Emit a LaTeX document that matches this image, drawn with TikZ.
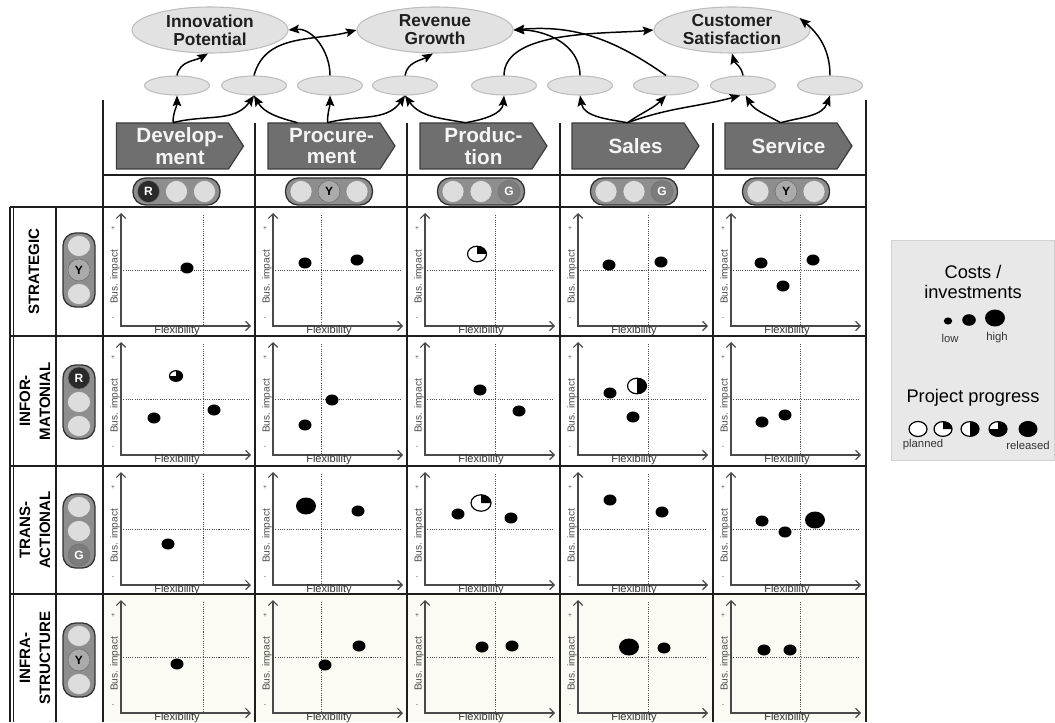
\documentclass[tikz,border=0pt]{standalone}
\usepackage{fontspec}
\setmainfont{Liberation Sans}
\usetikzlibrary{arrows.meta,calc,shapes.geometric}
\definecolor{ellfill}{HTML}{E2E2E2}
\definecolor{ellline}{HTML}{BDBDBD}
\definecolor{hdrfill}{HTML}{6F6F6F}
\definecolor{hdrline}{HTML}{3C3C3C}
\definecolor{tabline}{HTML}{1E1E1E}
\definecolor{axisgray}{HTML}{4A4A4A}
\definecolor{tloff}{HTML}{DDDDDD}
\definecolor{tlbody}{HTML}{8E8E8E}
\definecolor{tlR}{HTML}{2A2A2A}
\definecolor{tlY}{HTML}{ABABAB}
\definecolor{tlG}{HTML}{7C7C7C}
\definecolor{legfill}{HTML}{E8E8E8}
\definecolor{rowtint}{HTML}{FBFBF4}
\newcommand\mydot[3]{\fill[black] (#1,#2) ellipse[x radius=#3,y radius={0.85*#3}];}
\newcommand\mypie[4]{%
  \fill[white] (#1,#2) ellipse[x radius=#3,y radius={0.82*#3}];
  \fill[black] (#1,#2) -- ++(0,{0.82*#3}) arc[start angle=90,end angle=#4,x radius=#3,y radius={0.82*#3}] -- cycle;
  \draw[line width=0.9pt] (#1,#2) ellipse[x radius=#3,y radius={0.82*#3}];}
\begin{document}
\begin{tikzpicture}[x=0.75pt,y=0.75pt,
  big/.style={ellipse, fill=ellfill, draw=ellline, line width=0.8pt, minimum width=117pt, minimum height=34.5pt, inner sep=0pt, align=center, text=black!88, font=\fontsize{13}{13.5}\selectfont\bfseries},
  small/.style={ellipse, fill=ellfill, draw=ellline, line width=0.8pt, minimum width=48.75pt, minimum height=14.25pt, inner sep=0pt},
  hdr/.style={minimum width=95.25pt, minimum height=34.5pt, inner sep=0pt, align=center, text=white!96!black, font=\fontsize{15.5}{16.3}\selectfont\bfseries},
  hdrshape/.style={fill=hdrfill, draw=hdrline, line width=0.9pt},
  link/.style={line width=1.1pt, -{Stealth[length=8pt,width=6.5pt,inset=1.5pt]}},
  tableline/.style={tabline, line width=1.5pt},
  thinline/.style={tabline, line width=0.8pt},
  dotline/.style={axisgray, line width=0.7pt, dash pattern=on 0.8pt off 0.9pt},
  axisline/.style={axisgray, line width=0.9pt, {Straight Barb[length=3.5pt,width=7pt]}-{Straight Barb[length=3.5pt,width=7pt]}},
  pm/.style={inner sep=0pt, font=\fontsize{5}{5}\selectfont, text=axisgray},
  busl/.style={rotate=90, inner sep=0pt, font=\fontsize{7.6}{8}\selectfont, text=axisgray},
  flexl/.style={inner sep=0pt, anchor=base, font=\fontsize{8.3}{9}\selectfont, text=black!80},
  rowlab/.style={rotate=90, align=center, inner sep=0pt, font=\fontsize{11.3}{15}\selectfont\bfseries},
  pill/.style={fill=tlbody, draw=black!80, line width=1pt, rounded corners=9.5pt},
  lamp/.style={fill=tloff, draw=black!45, line width=0.4pt},
  litlamp/.style={circle, inner sep=0pt, minimum size=16.5pt, draw=black!55, line width=0.5pt, font=\fontsize{9}{9}\selectfont\bfseries},
  legtext/.style={align=center, inner sep=0pt, font=\fontsize{13.7}{14.5}\selectfont},
  legsmall/.style={inner sep=0pt, font=\fontsize{8.5}{9}\selectfont, text=black!80}
]
\useasboundingbox (0,0) rectangle (1055,722);

% light tint of the infrastructure row
\fill[rowtint] (103,0) rectangle (866,128);

% header arrow shapes
\foreach \cx in {180,331.5,483.5,635.5,788.5}
  \filldraw[hdrshape] (\cx-63.5,599) -- (\cx+48.5,599) -- (\cx+63.5,576) -- (\cx+48.5,553) -- (\cx-63.5,553) -- cycle;
\node[hdr] (hdev) at (180,576) {Develop-\\ment};
\node[hdr] (hproc) at (331.5,576) {Procure-\\ment};
\node[hdr] (hprod) at (483.5,576) {Produc-\\tion};
\node[hdr] (hsales) at (635.5,576) {Sales};
\node[hdr] (hserv) at (788.5,576) {Service};

% table lines
\draw[tableline] (103,0) -- (103,622);
\draw[tableline] (866,0) -- (866,622);
\foreach \x in {255,407,560,713} \draw[tableline] (\x,0) -- (\x,599);
\draw[tableline] (103,547) -- (866,547);
\draw[tableline] (10,515) -- (866,515);
\foreach \y in {386,256,128} \draw[tableline] (10,\y) -- (866,\y);
\draw[tableline] (56,0) -- (56,515);
\draw[thinline] (10,0) -- (10,515);
\draw[thinline] (13.5,0) -- (13.5,515);

% row labels
\node[rowlab] (rl1) at (34,450.5) {STRATEGIC};
\node[rowlab] (rl2) at (35,321) {INFOR-\\MATONIAL};
\node[rowlab] (rl3) at (35,192) {TRANS-\\ACTIONAL};
\node[rowlab] (rl4) at (35,64) {INFRA-\\STRUCTURE};

% horizontal traffic lights
\foreach \x/\lit/\col/\txt/\tc [count=\i] in {176.5/1/tlR/R/white, 329/2/tlY/Y/black, 481/3/tlG/G/white, 634/3/tlG/G/white, 786/2/tlY/Y/black} {
  \filldraw[pill] (\x-43.5,517) rectangle (\x+43.5,544);
  \foreach \k in {1,2,3} \filldraw[lamp] (\x+28*\k-56,530.5) circle[radius=11];
  \node[litlamp, fill=\col, text=\tc] (th\i) at (\x+28*\lit-56,530.5) {\txt};
}
% vertical traffic lights
\foreach \y/\lit/\col/\txt/\tc [count=\i] in {452/2/tlY/Y/black, 320/1/tlR/R/white, 191/3/tlG/G/white, 62/2/tlY/Y/black} {
  \filldraw[pill] (63,\y-37) rectangle (95,\y+37);
  \foreach \k in {1,2,3} \filldraw[lamp] (79,\y+48-24*\k) circle[x radius=11.5, y radius=10.5];
  \node[litlamp, fill=\col, text=\tc] (tv\i) at (79,\y+48-24*\lit) {\txt};
}

% portfolio cells
\foreach \xl/\dv in {103/100,255/66,407/88,560/88,713/87}{
  \foreach \rt in {515,386,256,128}{
    \draw[dotline] (\xl+\dv,\rt-8) -- (\xl+\dv,\rt-119);
    \draw[dotline] (\xl+18,\rt-63) -- (\xl+146,\rt-63);
    \draw[axisline] (\xl+18,\rt-6) -- (\xl+18,\rt-119) -- (\xl+148,\rt-119);
    \node[pm] (plus-\xl-\rt) at (\xl+10,\rt-22) {+};
    \node[pm] (minus-\xl-\rt) at (\xl+10,\rt-111) {-};
    \node[busl] (bus-\xl-\rt) at (\xl+12,\rt-70) {Bus. impact};
    \node[flexl] (flex-\xl-\rt) at (\xl+74,\rt-126.5) {Flexibility};
  }
}

% projects: strategic
\mydot{187}{454}{6.5}
\mydot{305}{459}{6.5} \mydot{357}{462}{6.5}
\mypie{477}{468}{9.5}{0}
\mydot{609}{457}{6.5} \mydot{661}{460}{6.5}
\mydot{761}{459}{6.5} \mydot{813}{462}{6.5} \mydot{783}{436}{6.5}
% informational
\mypie{176}{346}{6.5}{-180}
\mydot{154}{304}{6.5} \mydot{214}{312}{6.5}
\mydot{332}{322}{6.5} \mydot{305}{297}{6.5}
\mydot{480}{332}{6.5} \mydot{519}{311}{6.5}
\mydot{610}{329}{6.5} \mypie{637}{336}{9.5}{-90} \mydot{633}{305}{6.5}
\mydot{762}{300}{6.5} \mydot{785}{307}{6.5}
% transactional
\mydot{168}{178}{6.5}
\mydot{306}{216}{10} \mydot{358}{211}{6.5}
\mydot{458}{208}{6.5} \mypie{481}{219}{10}{0} \mydot{511}{204}{6.5}
\mydot{610}{222}{6.5} \mydot{662}{210}{6.5}
\mydot{762}{201}{6.5} \mydot{785}{190}{6.5} \mydot{815}{202}{10}
% infrastructure
\mydot{177}{58}{6.5}
\mydot{325}{57}{6.5} \mydot{359}{76}{6.5}
\mydot{482}{75}{6.5} \mydot{512}{76}{6.5}
\mydot{629}{75}{10} \mydot{664}{74}{6.5}
\mydot{764}{72}{6.5} \mydot{790}{72}{6.5}

% legend
\filldraw[fill=legfill, draw=black!18, line width=0.6pt] (891,262) rectangle (1054,482);
\node[legtext] (lcost) at (973,440) {Costs /\\investments};
\mydot{948}{401}{4.2} \mydot{969}{402}{6.8} \mydot{995}{404}{10}
\node[legsmall] (llow) at (950,384) {low};
\node[legsmall] (lhigh) at (997,384) {high};
\node[legtext] (lprog) at (973,324) {Project progress};
\filldraw[fill=white, draw=black, line width=0.9pt] (918,293) ellipse[x radius=9, y radius=7.5];
\mypie{943}{293}{9}{0}
\mypie{970}{293}{9}{-90}
\mypie{998}{293}{9}{-180}
\mydot{1028}{293}{9.5}
\node[legsmall] (lplan) at (923,277) {planned};
\node[legsmall] (lrel) at (1028,277) {released};

% goal ellipses
\node[big] (ip) at (210,692) {Innovation\\Potential};
\node[big] (rg) at (435,692) {Revenue\\Growth};
\node[big] (cs) at (732,692) {Customer\\Satisfaction};
\foreach \x [count=\i] in {177,254,330,405,504,580,666,743,830}
  \node[small] (e\i) at (\x,636.5) {};

% links: process headers to intermediate ellipses
\draw[link] ($(hdev.north)+(-7,0)$) to[out=90,in=-90] (e1.south);
\draw[link] ($(hdev.north)+(-7,0)$) to[out=15,in=-125] (e2.south);
\draw[link] ($(hproc.north)+(-34,0)$) to[out=165,in=-60] (e2.south);
\draw[link] ($(hproc.north)+(-4,0)$) to[out=90,in=-90] (e3.south);
\draw[link] ($(hproc.north)+(-4,0)$) to[out=15,in=-125] (e4.south);
\draw[link] ($(hprod.north)+(-18,0)$) to[out=170,in=-55] (e4.south);
\draw[link] ($(hprod.north)+(-18,0)$) to[out=10,in=-95] (e5.south);
\draw[link] ($(hsales.north)+(-8,0)$) to[out=170,in=-80] (e6.south);
\draw[link] ($(hsales.north)+(-8,0)$) to[out=35,in=-135] (e7.south);
\draw[link] ($(hsales.north)+(-8,0)$) to[out=20,in=-165] (e8.-105);
\draw[link] ($(hserv.north)+(-8,0)$) to[out=150,in=-60] (e8.-75);
\draw[link] ($(hserv.north)+(-8,0)$) to[out=15,in=-110] (e9.south);

% links: intermediate ellipses to goals
\draw[link] (e1.north) to[out=80,in=-150] (ip.-95);
\draw[link] (e2.north) to[out=75,in=195] (rg.west);
\draw[link] (e3.north) to[out=90,in=5] (ip.east);
\draw[link] (e4.north) to[out=80,in=-150] (rg.-95);
\draw[link] (e5.north) to[out=90,in=185,looseness=0.75] (cs.west);
\draw[link] (e6.north) to[out=90,in=0] (rg.east);
\draw[link] (e7.north) to[out=145,in=5] (rg.east);
\draw[link] (e8.north) to[out=100,in=-75] (cs.south);
\draw[link] (e9.north) to[out=90,in=-40] (cs.10);
\end{tikzpicture}
\end{document}
